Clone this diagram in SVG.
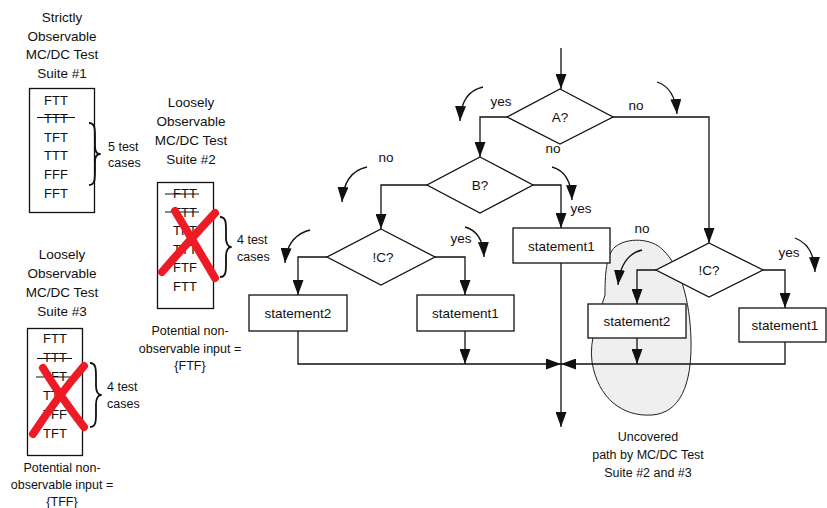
<svg xmlns="http://www.w3.org/2000/svg" width="827" height="508" viewBox="0 0 827 508">
  <defs>
    <style>
      text { font-family: "Liberation Sans", Arial, Helvetica, sans-serif; fill: #111; }
      .t { font-size: 13.5px; text-anchor: middle; }
      .s { font-size: 12.5px; text-anchor: middle; }
      .row { font-size: 13px; text-anchor: middle; }
      .cnt { font-size: 12.5px; }
      .box { fill: #fff; stroke: #111; stroke-width: 1.3; }
      .dia { fill: #fff; stroke: #111; stroke-width: 1.3; }
      .ln { fill: none; stroke: #111; stroke-width: 1.3; }
      .strike { stroke: #111; stroke-width: 1.2; }
      .brace { fill: none; stroke: #111; stroke-width: 1.8; stroke-linejoin: round; }
      .cross { fill: none; stroke: #ee1b24; stroke-width: 8; stroke-linecap: round; }
      .hint { fill: none; stroke: #111; stroke-width: 1.3; }
      .blob { fill: #efefef; stroke: #222; stroke-width: 1; }
    </style>
    <marker id="ah" viewBox="0 0 15 11" refX="15" refY="5.5" markerWidth="15" markerHeight="11" markerUnits="userSpaceOnUse" orient="auto">
      <path d="M0,0 L15,5.5 L0,11 Z" fill="#111"/>
    </marker>
  </defs>

  <!-- Test suite #1 -->
  <g id="suite1">
    <text class="t" x="62" y="22">Strictly</text>
    <text class="t" x="62" y="40.5">Observable</text>
    <text class="t" x="62" y="59">MC/DC Test</text>
    <text class="t" x="62" y="77.5">Suite #1</text>
    <rect class="box" x="29.5" y="88.5" width="65" height="124"/>
    <text class="row" x="56" y="104.5">FTT</text>
    <text class="row" x="56" y="123">TTT</text>
    <line class="strike" x1="37" y1="117.5" x2="75" y2="117.5"/>
    <text class="row" x="56" y="141.5">TFT</text>
    <text class="row" x="56" y="160">TTT</text>
    <text class="row" x="56" y="179">FFF</text>
    <text class="row" x="56" y="197.5">FFT</text>
    <path class="brace" d="M89,123 C95,123 95,129 95,137 L95,146 C95,151 97,154 100,154 C97,154 95,157 95,162 L95,171 C95,179 95,185 89,185"/>
    <text class="cnt" x="108" y="151">5 test</text>
    <text class="cnt" x="108" y="167">cases</text>
  </g>

  <!-- Test suite #2 -->
  <g id="suite2">
    <text class="t" x="191" y="107">Loosely</text>
    <text class="t" x="191" y="126">Observable</text>
    <text class="t" x="191" y="145">MC/DC Test</text>
    <text class="t" x="191" y="164">Suite #2</text>
    <rect class="box" x="157.5" y="182.5" width="56" height="126"/>
    <text class="row" x="185" y="198">FTT</text>
    <line class="strike" x1="165" y1="194" x2="199" y2="194"/>
    <text class="row" x="185" y="216.5">TTT</text>
    <line class="strike" x1="165" y1="212" x2="199" y2="212"/>
    <text class="row" x="185" y="235">TFT</text>
    <text class="row" x="185" y="253.5">TTT</text>
    <text class="row" x="185" y="272">FTF</text>
    <text class="row" x="185" y="290.5">FTT</text>
    <path class="cross" d="M175,211 Q195,244 215,278"/>
    <path class="cross" d="M215,213 Q188,242 162,272"/>
    <path class="brace" d="M220,217 C226,217 226,223 226,230 L226,238 C226,243 228,247 231,247 C228,247 226,251 226,256 L226,264 C226,271 226,277 220,277"/>
    <text class="cnt" x="237" y="244">4 test</text>
    <text class="cnt" x="237" y="261">cases</text>
    <text class="s" x="190" y="335">Potential non-</text>
    <text class="s" x="190" y="352.5">observable input =</text>
    <text class="s" x="190" y="370">{FTF}</text>
  </g>

  <!-- Test suite #3 -->
  <g id="suite3">
    <text class="t" x="62" y="259">Loosely</text>
    <text class="t" x="62" y="278">Observable</text>
    <text class="t" x="62" y="297">MC/DC Test</text>
    <text class="t" x="62" y="316">Suite #3</text>
    <rect class="box" x="27.5" y="328.5" width="55" height="127"/>
    <text class="row" x="55" y="342.5">FTT</text>
    <text class="row" x="55" y="361.5">TTT</text>
    <line class="strike" x1="37" y1="358.5" x2="72" y2="358.5"/>
    <text class="row" x="55" y="380.5">TFT</text>
    <line class="strike" x1="36" y1="377" x2="70" y2="377"/>
    <text class="row" x="55" y="399.5">TTT</text>
    <text class="row" x="55" y="419">TFF</text>
    <text class="row" x="55" y="438">TFT</text>
    <path class="cross" d="M43,368 Q62,399 84,427"/>
    <path class="cross" d="M84,366 Q58,396 33,434"/>
    <path class="brace" d="M90,363 C96,363 96,369 96,377 L96,386 C96,391 98,395 101,395 C98,395 96,399 96,404 L96,413 C96,421 96,427 90,427"/>
    <text class="cnt" x="107" y="391">4 test</text>
    <text class="cnt" x="107" y="408">cases</text>
    <text class="s" x="62" y="472">Potential non-</text>
    <text class="s" x="62" y="489">observable input =</text>
    <text class="s" x="62" y="506">{TFF}</text>
  </g>

  <!-- Uncovered region around the right-hand !C "no" path -->
  <g id="uncovered">
    <path class="blob" d="M605,295 C605,275 606,255 615,247 C627,237 652,238 663,250 C680,266 690,300 691,340 C692,385 680,413 652,415 C622,417 598,398 592,362 C589,340 598,318 605,295 Z"/>
    <text class="s" x="648" y="441">Uncovered</text>
    <text class="s" x="648" y="459">path by MC/DC Test</text>
    <text class="s" x="648" y="477">Suite #2 and #3</text>
  </g>

  <!-- Flow connectors -->
  <g id="connectors">
    <path class="ln" d="M561,48 L561,89" marker-end="url(#ah)"/>
    <path class="ln" d="M507,117 L480,117 L480,157" marker-end="url(#ah)"/>
    <path class="ln" d="M613,117 L709,117 L709,243" marker-end="url(#ah)"/>
    <path class="ln" d="M427,185 L381,185 L381,229" marker-end="url(#ah)"/>
    <path class="ln" d="M533,185 L561,185 L561,228" marker-end="url(#ah)"/>
    <path class="ln" d="M327,257 L298,257 L298,295" marker-end="url(#ah)"/>
    <path class="ln" d="M435,257 L465,257 L465,295" marker-end="url(#ah)"/>
    <path class="ln" d="M656,270 L637,270 L637,304" marker-end="url(#ah)"/>
    <path class="ln" d="M763,270 L785,270 L785,308" marker-end="url(#ah)"/>
    <path class="ln" d="M298,331 L298,364 L561,364" marker-end="url(#ah)"/>
    <path class="ln" d="M465,331 L465,364" marker-end="url(#ah)"/>
    <path class="ln" d="M785,342 L785,364 L561,364" marker-end="url(#ah)"/>
    <path class="ln" d="M637,338 L637,364" marker-end="url(#ah)"/>
    <path class="ln" d="M561,263 L561,427" marker-end="url(#ah)"/>
    <!-- branch-direction hints -->
    <path class="hint" d="M483,87 Q461,92 460,121" marker-end="url(#ah)"/>
    <path class="hint" d="M367,167 Q344,172 342,202" marker-end="url(#ah)"/>
    <path class="hint" d="M552,167 Q571,172 572,200" marker-end="url(#ah)"/>
    <path class="hint" d="M310,230 Q287,236 285,263" marker-end="url(#ah)"/>
    <path class="hint" d="M465,227 Q483,232 484,257" marker-end="url(#ah)"/>
    <path class="hint" d="M657,82 Q675,88 677,114" marker-end="url(#ah)"/>
    <path class="hint" d="M642,250 Q621,255 618,285" marker-end="url(#ah)"/>
    <path class="hint" d="M795,238 Q814,245 815,272" marker-end="url(#ah)"/>
    <!-- branch labels -->
    <text class="t" x="501" y="106">yes</text>
    <text class="t" x="553" y="153">no</text>
    <text class="t" x="636" y="110">no</text>
    <text class="t" x="386" y="162">no</text>
    <text class="t" x="581" y="213">yes</text>
    <text class="t" x="461" y="243">yes</text>
    <text class="t" x="642" y="233">no</text>
    <text class="t" x="789" y="257">yes</text>
  </g>

  <!-- Decisions -->
  <g id="decisionA">
    <polygon class="dia" points="560,89 613,117 560,144 507,117"/>
    <text class="t" x="560" y="122">A?</text>
  </g>
  <g id="decisionB">
    <polygon class="dia" points="480,157 533,185 480,213 427,185"/>
    <text class="t" x="480" y="190">B?</text>
  </g>
  <g id="decisionC1">
    <polygon class="dia" points="381,229 435,257 381,285 327,257"/>
    <text class="t" x="383" y="262">!C?</text>
  </g>
  <g id="decisionC2">
    <polygon class="dia" points="709,243 763,270 709,297 656,270"/>
    <text class="t" x="709" y="275">!C?</text>
  </g>

  <!-- Statements -->
  <g id="stmt1B">
    <rect class="box" x="513" y="228" width="97" height="35"/>
    <text class="t" x="561.5" y="250.5">statement1</text>
  </g>
  <g id="stmt2Left">
    <rect class="box" x="249" y="295" width="98" height="36"/>
    <text class="t" x="298" y="318">statement2</text>
  </g>
  <g id="stmt1Left">
    <rect class="box" x="417" y="295" width="97" height="36"/>
    <text class="t" x="465.5" y="318">statement1</text>
  </g>
  <g id="stmt2Right">
    <rect class="box" x="588" y="304" width="98" height="34"/>
    <text class="t" x="637" y="326">statement2</text>
  </g>
  <g id="stmt1Right">
    <rect class="box" x="739" y="308" width="87" height="34"/>
    <text class="t" x="785" y="330">statement1</text>
  </g>
</svg>
